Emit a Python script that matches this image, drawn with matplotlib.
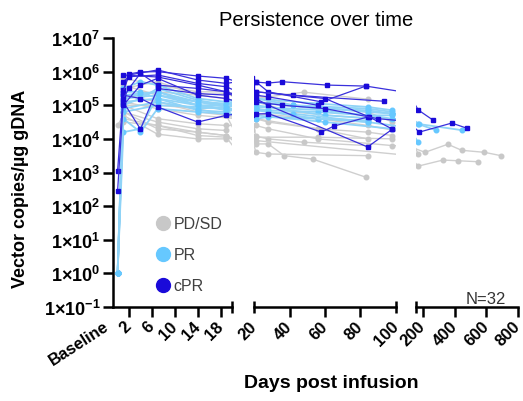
import numpy as np
import matplotlib
matplotlib.use("Agg")
from matplotlib import pyplot as plt
from matplotlib.lines import Line2D

plt.rcParams['font.family'] = 'Liberation Sans'
plt.rcParams['mathtext.fontset'] = 'custom'
plt.rcParams['mathtext.rm'] = 'Liberation Sans'
plt.rcParams['mathtext.bf'] = 'Liberation Sans:bold'
plt.rcParams['mathtext.default'] = 'bf'

# days post infusion and log10(vector copies/ug gDNA) per patient, by response group
pdsd_days = [
    [0, 1, 7, 14, 19, 21, 28, 48, 84],
    [0, 1, 7, 14, 19, 21, 28, 37, 53, 83],
    [1, 7, 14, 19, 21, 48, 84],
    [0, 1, 7, 14, 19, 21, 56, 98],
    [1, 7, 14, 19, 21, 28, 56, 98, 212, 356, 444, 588, 693],
    [1, 7, 14, 19, 21, 169, 325, 419, 550],
    [0, 1, 7, 14, 19, 21, 42, 84],
    [1, 7, 14, 19, 21, 28, 56, 84, 98],
    [1, 7, 14, 19, 21, 56, 84, 169],
    [0, 1, 7, 14, 19],
    [1, 7, 14, 19, 21, 28, 42, 84, 98],
    [1, 7, 14, 19, 21, 28, 84],
    [0, 1, 7, 14, 21, 56, 84],
]
pdsd_log = [
    [4.4, 4.7, 4.14, 4.0, 4.0, 4.08, 4.0, 3.9, 3.8],
    [0, 4.5, 4.4, 4.2, 4.1, 3.85, 3.85, 3.5, 3.4, 2.86],
    [5.2, 5.4, 5.3, 5.35, 5.2, 5.39, 5.18],
    [0, 5.0, 5.0, 4.9, 4.7, 4.05, 4.05, 4.0],
    [5.0, 4.6, 4.45, 4.4, 4.4, 4.3, 4.0, 3.8, 3.6, 3.84, 3.66, 3.6, 3.5],
    [4.8, 4.3, 4.2, 4.1, 3.95, 3.19, 3.37, 3.35, 3.32],
    [0, 5.5, 5.7, 5.3, 5.2, 5.1, 4.8, 4.6],
    [5.3, 5.1, 4.8, 4.7, 4.6, 4.5, 4.3, 4.2, 4.1],
    [5.6, 5.3, 5.1, 5.0, 4.75, 4.6, 4.4, 3.55],
    [0, 4.8, 4.5, 4.3, 4.25],
    [5.8, 5.6, 5.4, 5.4, 5.3, 5.2, 5.0, 4.8, 4.5],
    [4.6, 4.4, 4.1, 4.05, 3.6, 3.55, 3.5],
    [0, 5.1, 4.9, 4.7, 4.6, 4.3, 4.0],
]

pr_days = [
    [0, 1, 4, 7, 14, 19, 21, 28, 56, 84, 98],
    [0, 1, 7, 14, 19, 21, 28, 56, 84, 98, 170, 280],
    [0, 1, 4, 7, 14, 19, 21, 42, 84, 98],
    [1, 4, 7, 14, 19, 21, 28, 60, 90],
    [0, 1, 4, 7, 14, 19, 21, 60, 98],
    [1, 7, 14, 19, 21, 28, 56, 84, 169],
    [0, 1, 4, 7, 14, 19, 21, 56, 84, 98],
    [1, 7, 14, 19, 21, 28, 42, 84],
    [0, 1, 7, 14, 19, 21, 60, 84, 98, 175, 444],
    [1, 4, 7, 14, 19, 21, 28, 84],
    [0, 1, 7, 14, 19, 21, 42, 84, 98],
]
pr_log = [
    [0, 4.2, 4.3, 5.3, 5.0, 4.9, 4.9, 4.85, 4.8, 4.7, 4.7],
    [0, 5.3, 5.4, 5.0, 5.0, 5.1, 5.05, 4.9, 4.85, 4.75, 4.44, 4.26],
    [0, 5.0, 5.2, 5.5, 5.15, 5.0, 5.2, 5.0, 4.9, 4.8],
    [5.3, 5.3, 5.4, 5.1, 4.95, 5.0, 4.95, 4.7, 4.6],
    [0, 4.6, 4.2, 4.9, 4.8, 4.75, 4.7, 4.5, 4.3],
    [5.1, 5.2, 4.85, 4.8, 4.9, 4.8, 4.6, 4.5, 3.9],
    [0, 5.5, 5.7, 5.6, 5.2, 5.1, 5.2, 5.05, 4.95, 4.85],
    [4.8, 5.0, 4.95, 4.9, 4.85, 4.8, 4.75, 4.5],
    [0, 5.2, 5.3, 5.1, 5.05, 4.95, 4.85, 4.7, 4.6, 4.44, 4.26],
    [5.4, 5.4, 5.2, 5.0, 4.85, 4.6, 4.65, 4.55],
    [0, 4.9, 5.1, 4.9, 4.95, 5.1, 5.0, 4.8, 4.75],
]

cpr_days = [
    [1, 2, 4, 7, 14, 19, 21, 28, 36, 61, 83],
    [0, 1, 2, 7, 14, 19, 21, 28, 58, 83, 169, 262],
    [0, 1, 4, 7, 14, 19, 21, 42, 93],
    [1, 4, 7, 14, 19, 21, 28, 58, 65, 84],
    [1, 7, 14, 19, 21, 28, 84, 98],
    [1, 2, 7, 14, 19, 21, 60, 85, 98],
    [1, 4, 7, 14, 19, 21, 36, 60, 90, 175, 381, 475],
    [1, 2, 4, 7, 14, 19, 21, 28, 56],
]
cpr_log = [
    [5.45, 5.93, 5.99, 6.0, 5.87, 5.8, 5.69, 5.66, 5.7, 5.6, 5.57],
    [3.04, 5.4, 5.9, 6.05, 5.75, 5.65, 5.7, 5.4, 5.1, 5.57, 4.86, 4.56],
    [2.45, 5.1, 4.29, 5.5, 5.35, 5.3, 5.4, 5.3, 5.12],
    [5.3, 5.2, 4.95, 4.5, 4.7, 4.74, 4.75, 4.2, 4.38, 4.65],
    [5.9, 5.84, 5.6, 5.4, 5.2, 5.0, 3.76, 4.29],
    [5.7, 5.85, 5.9, 5.65, 5.55, 5.4, 5.2, 4.65, 4.29],
    [5.0, 5.6, 5.8, 5.3, 5.2, 5.1, 5.0, 4.9, 4.6, 4.2, 4.47, 4.32],
    [5.2, 5.5, 5.95, 5.6, 5.5, 5.4, 5.3, 5.25, 5.0],
]

groups = ['PD/SD', 'PR', 'cPR']
colors = ['#c8c8c8', '#66c8ff', '#1a0ad9']
line_colors = ['#cfcfcf', '#8fd3f7', '#3a30dc']
line_widths = [1.0, 1.3, 0.9]
markers = ['o', 'o', 's']
all_days = [pdsd_days, pr_days, cpr_days]
all_log = [pdsd_log, pr_log, cpr_log]

fig = plt.figure(figsize=(5.23, 4.02), dpi=100)
bottom, height = 1 - 308 / 402, 269 / 402
ax1 = fig.add_axes([113 / 523, bottom, 119 / 523, height])
ax2 = fig.add_axes([254 / 523, bottom, 142 / 523, height])
ax3 = fig.add_axes([416 / 523, bottom, 102 / 523, height])
axes = [ax1, ax2, ax3]

for ax in axes:
    for g in range(3):
        for d, v in zip(all_days[g], all_log[g]):
            ax.plot(d, 10 ** np.array(v), color=line_colors[g], lw=line_widths[g],
                    marker=markers[g], ms=3.3, mfc=colors[g], mec=colors[g])
    ax.set_yscale('log')
    ax.set_ylim(1e-1, 1e7)
    ax.minorticks_off()
    for s in ['top', 'right']:
        ax.spines[s].set_visible(False)
    ax.spines['bottom'].set_linewidth(1.8)
    ax.tick_params(axis='x', length=7, width=1.8, labelsize=12, pad=5)
    ax.patch.set_visible(False)

ax1.set_xlim(-0.8, 20)
ax2.set_xlim(20, 100)
ax3.set_xlim(155, 800)

ax1.set_xticks([2, 6, 10, 14, 18], ['2', '6', '10', '14', '18'])
ax2.set_xticks([20, 40, 60, 80, 100], ['20', '40', '60', '80', '100'])
ax2.xaxis.get_major_ticks()[0].tick1line.set_visible(False)
ax2.xaxis.get_major_ticks()[-1].tick1line.set_visible(False)
ax3.set_xticks([200, 400, 600, 800], ['200', '400', '600', '800'])

for ax in axes:
    for lab in ax.get_xticklabels():
        lab.set_rotation(45)
        lab.set_ha('right')
        lab.set_va('center')
        lab.set_rotation_mode('anchor')
        lab.set_fontweight('bold')

ax1.annotate('Baseline', xy=(0, 0), xycoords=('data', 'axes fraction'),
             xytext=(-10, -8), textcoords='offset points', rotation=33,
             ha='right', va='top', rotation_mode='anchor', fontsize=12,
             fontweight='bold', annotation_clip=False)

# y axis only on the first segment
decades = list(range(-1, 8))
ax1.set_yticks([10.0 ** e for e in decades], ['1×10$^{%d}$' % e for e in decades])
ax1.spines['left'].set_linewidth(1.8)
ax1.tick_params(axis='y', length=7, width=1.8, labelsize=13, pad=2)
for lab in ax1.get_yticklabels():
    lab.set_fontweight('bold')
for ax in [ax2, ax3]:
    ax.spines['left'].set_visible(False)
    ax.tick_params(axis='y', left=False, labelleft=False)

# end caps of the broken x axis
for ax, xs in [(ax1, [1]), (ax2, [0, 1]), (ax3, [0])]:
    for x in xs:
        ax.plot([x, x], [-0.024, 0.024], transform=ax.transAxes, color='black',
                lw=1.8, clip_on=False, solid_capstyle='butt')

handles = [Line2D([], [], ls='none', marker='o', ms=10, mfc=c, mec=c) for c in colors]
ax1.legend(handles, groups, loc='upper left', bbox_to_anchor=(0.215, 0.39),
           frameon=False, fontsize=11.5, handletextpad=0.1, labelspacing=1.0,
           handlelength=1.2, labelcolor='#404040')

fig.text(0.605, 1 - 20 / 402, 'Persistence over time', ha='center', va='center', fontsize=14.5)
fig.text(0.04, 0.53, 'Vector copies/µg gDNA', rotation=90, ha='center', va='center',
         fontsize=13, fontweight='bold')
fig.text(0.633, 0.047, 'Days post infusion', ha='center', va='center', fontsize=14,
         fontweight='bold')
fig.text(0.929, 0.256, 'N=32', ha='center', va='center', fontsize=12, color='#333333')

fig.savefig('out.png', dpi=100)
